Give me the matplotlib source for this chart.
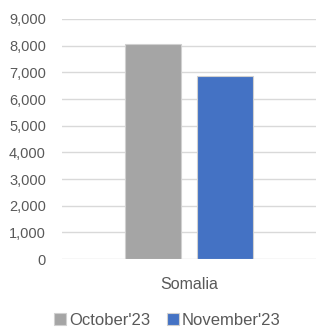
import matplotlib
matplotlib.use("Agg")
import matplotlib.pyplot as pyplot
import matplotlib.ticker as ticker

categories = ["Somalia"]
series_names = ["October'23", "November'23"]
october_values = [8060]
november_values = [6870]
series_colors = ["#a5a5a5", "#4472c4"]

pyplot.rcParams["font.family"] = ["Liberation Sans", "DejaVu Sans"]

figure = pyplot.figure(figsize=(3.16, 3.31), dpi=100)
axis = figure.add_axes([0.196, 0.2175, 0.804, 0.7251])

width = 0.22
offset = 0.142
positions = list(range(len(categories)))
bars = []
for values, shift, color, name in zip(
        [october_values, november_values], [-offset, offset],
        series_colors, series_names):
    bars.append(axis.bar([p + shift for p in positions], values, width,
        color=color, edgecolor="#d0d0d0", linewidth=0.8, label=name,
        zorder=3))

axis.set_ylim(0, 9000)
axis.set_xlim(-0.5, 0.5)
axis.yaxis.set_major_locator(ticker.MultipleLocator(1000))
axis.yaxis.set_major_formatter(ticker.StrMethodFormatter("{x:,.0f}"))
axis.set_xticks(positions)
axis.set_xticklabels(categories)
axis.grid(True, axis="y", color="#d9d9d9", linewidth=1, zorder=0)
for side in axis.spines.values():
    side.set_visible(False)
axis.tick_params(axis="both", length=0, colors="#595959")
axis.tick_params(axis="y", pad=11.5, labelsize=10.5)
axis.tick_params(axis="x", pad=13, labelsize=11.5)

figure.legend(handles=bars, loc="lower center", ncol=2, frameon=False,
    fontsize=12, handlelength=0.7, handleheight=0.7, handletextpad=0.2,
    columnspacing=1.0, bbox_to_anchor=(0.53, -0.035), labelcolor="#595959")

figure.savefig("out.png", dpi=100)
